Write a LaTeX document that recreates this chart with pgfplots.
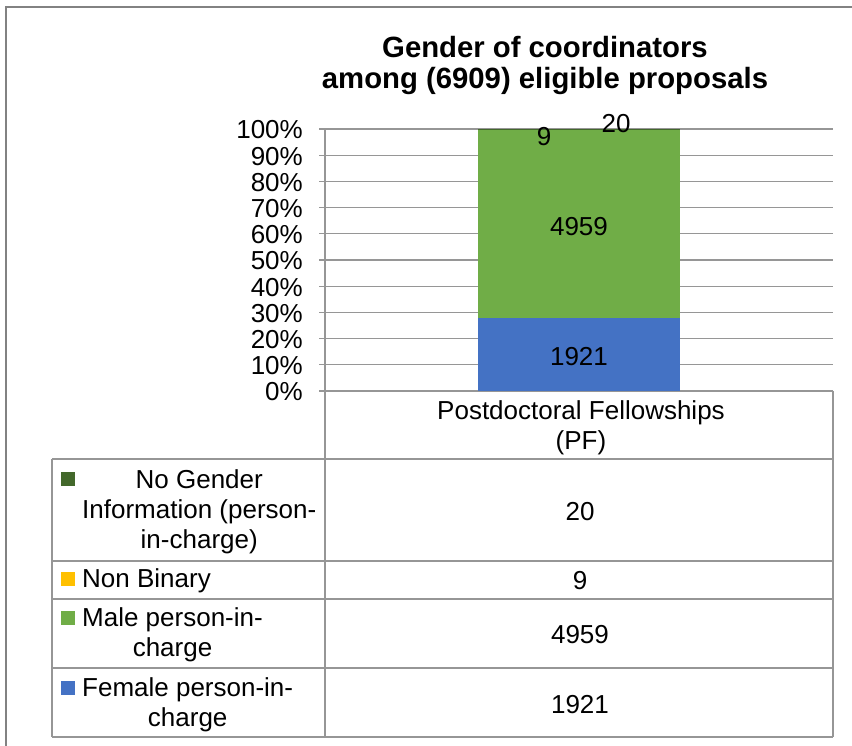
\documentclass[border=0pt]{standalone}
\usepackage{pgfplots}
\pgfplotsset{compat=1.18}
\usepackage{fontspec}
\setmainfont{Liberation Sans}
\definecolor{cfemale}{HTML}{4472C4}
\definecolor{cmale}{HTML}{70AD47}
\definecolor{cnonbin}{HTML}{FFC000}
\definecolor{cnogen}{HTML}{43682B}
\definecolor{cgrid}{RGB}{150,150,150}
\definecolor{cframe}{RGB}{130,130,130}
\newcommand{\body}{\fontsize{26}{30}\selectfont}
\begin{document}
\begin{tikzpicture}[x=1pt,y=1pt]
\useasboundingbox (0,0) rectangle (852,746);
% outer frame
\draw[cframe,line width=2pt] (6,0) -- (6,739) -- (852,739);
% title
\node[align=center,font=\fontsize{29.3}{31}\selectfont\bfseries] at (545,680) {Gender of coordinators\\among (6909) eligible proposals};
\begin{axis}[
  at={(325pt,355pt)}, anchor=south west,
  scale only axis, width=508pt, height=262pt,
  ybar stacked, bar width=202pt,
  xmin=-1, xmax=1, ymin=0, ymax=6909,
  axis x line=none,
  axis y line*=left,
  y axis line style={cgrid,line width=1.2pt,-},
  ytick={0,690.9,1381.8,2072.7,2763.6,3454.5,4145.4,4836.3,5527.2,6218.1,6909},
  yticklabels={0\%,10\%,20\%,30\%,40\%,50\%,60\%,70\%,80\%,90\%,100\%},
  yticklabel style={font=\body, inner sep=0pt, xshift=-16pt, yshift=-1pt},
  tick align=outside, major tick length=6pt,
  ytick style={cgrid,line width=1.2pt},
  ymajorgrids, grid style={cgrid,line width=1.2pt},
  clip=false,
]
\addplot[fill=cfemale,draw=none] coordinates {(0,1921)};
\addplot[fill=cmale,draw=none] coordinates {(0,4959)};
\addplot[fill=cnonbin,draw=none] coordinates {(0,9)};
\addplot[fill=cnogen,draw=none] coordinates {(0,20)};
\end{axis}
\begin{axis}[
  at={(325pt,355pt)}, anchor=south west,
  scale only axis, width=508pt, height=262pt,
  xmin=-1, xmax=1, ymin=0, ymax=6909,
  axis lines=none, clip=false,
]
\addplot[draw=none, mark=none, nodes near coords, point meta=explicit symbolic,
  nodes near coords align=center,
  every node near coord/.append style={font=\body, inner sep=0pt, yshift=-2pt}]
  coordinates {(0,960.5) [1921] (0,4400.5) [4959]};
\addplot[draw=none, mark=none, nodes near coords, point meta=explicit symbolic,
  nodes near coords align=center,
  every node near coord/.append style={font=\body, inner sep=0pt, xshift=-35pt, yshift=-7pt}]
  coordinates {(0,6884.5) [9]};
\addplot[draw=none, mark=none, nodes near coords, point meta=explicit symbolic,
  nodes near coords align=center,
  every node near coord/.append style={font=\body, inner sep=0pt, xshift=37pt, yshift=6pt}]
  coordinates {(0,6899) [20]};
\end{axis}
% data table
\begin{scope}[cgrid,line width=1.2pt]
\draw (52,287) -- (833,287);
\draw (52,185) -- (833,185);
\draw (52,147) -- (833,147);
\draw (52,78) -- (833,78);
\draw (52,9) -- (833,9);
\draw (52,287) -- (52,9);
\draw (325,355) -- (325,9);
\draw (833,355) -- (833,9);
\end{scope}
% category header
\node[align=center,font=\body] at (581,318) {Postdoctoral Fellowships\\(PF)};
% legend keys
\fill[cnogen]  (61,260) rectangle (75,274);
\fill[cnonbin] (61,160) rectangle (75,174);
\fill[cmale]   (61,121) rectangle (75,135);
\fill[cfemale] (61,51) rectangle (75,65);
% legend texts
\node[anchor=west,align=center,font=\body,inner sep=0pt] at (82,234) {No Gender\\Information (person-\\in-charge)};
\node[anchor=west,align=center,font=\body,inner sep=0pt] at (82,165) {Non Binary};
\node[anchor=west,align=center,font=\body,inner sep=0pt] at (82,111) {Male person-in-\\charge};
\node[anchor=west,align=center,font=\body,inner sep=0pt] at (82,41) {Female person-in-\\charge};
% values
\node[font=\body] at (580,234) {20};
\node[font=\body] at (580,165) {9};
\node[font=\body] at (580,111) {4959};
\node[font=\body] at (580,41) {1921};
\end{tikzpicture}
\end{document}
